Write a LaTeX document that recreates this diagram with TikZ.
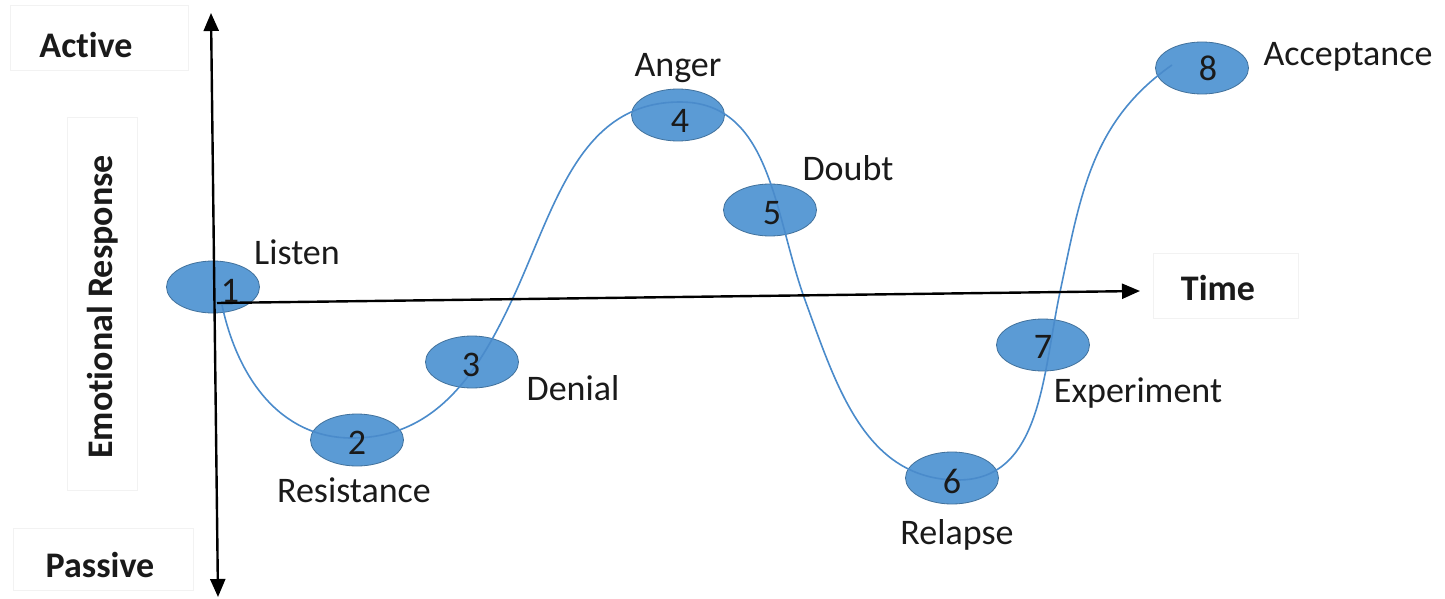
\documentclass[tikz,border=0pt]{standalone}
\usepackage{fontspec}
\setmainfont{Carlito}[Ligatures=NoCommon]
\usetikzlibrary{arrows.meta,shapes.geometric}
\definecolor{stagefill}{HTML}{5B9BD5}
\definecolor{stageedge}{HTML}{41719C}
\definecolor{curveblue}{HTML}{4A8BCB}
\definecolor{txt}{HTML}{1A1A1A}
\tikzset{
  stage/.style={ellipse, fill=stagefill, draw=stageedge, line width=0.8pt,
    minimum width=93pt, minimum height=52pt, inner sep=0pt},
  num/.style={font=\fontsize{36}{40}\selectfont, text=txt, inner sep=0pt},
  lbl/.style={font=\fontsize{36}{40}\selectfont, text=txt, inner sep=0pt},
  axlbl/.style={font=\fontsize{36}{40}\selectfont\bfseries, text=txt, inner sep=0pt},
  faintbox/.style={draw=black!5, line width=0.8pt},
  axis/.style={line width=2.4pt, black},
  curve/.style={curveblue, line width=1.6pt}
}
\begin{document}
\begin{tikzpicture}[x=1pt,y=1pt]
\useasboundingbox (0,0) rectangle (1445,-599);
\fill[white] (0,0) rectangle (1445,-599);
% faint text boxes
\draw[faintbox] (10,-5) rectangle (188,-70);
\draw[faintbox] (67,-117) rectangle (137,-490);
\draw[faintbox] (13,-528) rectangle (193,-590);
\draw[faintbox] (1153,-253) rectangle (1298,-318);
% stages
\node[stage] (e1) at (213,-287) {};
\node[stage] (e2) at (357,-440) {};
\node[stage] (e3) at (472,-362) {};
\node[stage] (e4) at (678,-115) {};
\node[stage] (e5) at (770,-210) {};
\node[stage] (e6) at (952,-478) {};
\node[stage] (e7) at (1043,-345) {};
\node[stage] (e8) at (1202,-68) {};
% curve waypoints
\coordinate (c0) at (222,-305);
\coordinate (c2) at (352,-438);
\coordinate (c3) at (512,-300);
\coordinate (c4) at (680,-102);
\coordinate (c5) at (805,-300);
\coordinate (c6) at (958,-480);
\coordinate (c7) at (1060,-292);
\coordinate (c8) at (1172,-65);
\draw[curve] (c0) to[out=-78,in=180] (c2) to[out=0,in=-115] (c3)
  to[out=65,in=180] (c4) to[out=0,in=110] (c5) to[out=-70,in=180] (c6)
  to[out=0,in=-102] (c7) to[out=78,in=215] (c8);
% axes
\coordinate (vtop) at (211,-13);
\coordinate (vbot) at (218,-597);
\coordinate (horg) at (217,-303);
\coordinate (hend) at (1140,-291);
\draw[axis, {Triangle[length=18pt,width=15pt]}-{Triangle[length=18pt,width=15pt]}] (vbot) -- (vtop);
\draw[axis, -{Triangle[length=18pt,width=15pt]}] (horg) -- (hend);
% numbers
\node[num] (n1) at (230,-291) {1};
\node[num] (n2) at (357,-443) {2};
\node[num] (n3) at (471,-365) {3};
\node[num] (n4) at (680,-121) {4};
\node[num] (n5) at (772,-213) {5};
\node[num] (n6) at (952,-481) {6};
\node[num] (n7) at (1043,-347) {7};
\node[num] (n8) at (1208,-68) {8};
% labels
\node[lbl] (l1) at (297,-252) {Listen};
\node[lbl] (l2) at (354,-490) {Resistance};
\node[lbl] (l3) at (573,-388) {Denial};
\node[lbl] (l4) at (678,-68) {Anger};
\node[lbl] (l5) at (848,-168) {Doubt};
\node[lbl] (l6) at (957,-535) {Relapse};
\node[lbl] (l7) at (1138,-393) {Experiment};
\node[lbl] (l8) at (1348,-57) {Acceptance};
\node[axlbl] (active) at (86,-45) {Active};
\node[axlbl] (passive) at (100,-565) {Passive};
\node[axlbl] (time) at (1218,-288) {Time};
\node[axlbl, rotate=90] (emo) at (103,-307) {Emot\kern0pt ional Response};
\end{tikzpicture}
\end{document}
